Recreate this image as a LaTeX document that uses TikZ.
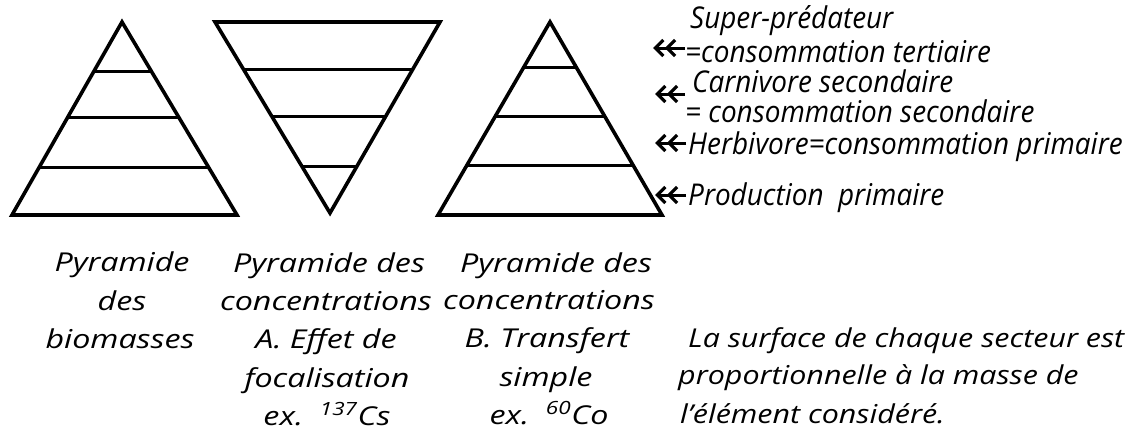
\documentclass[tikz,border=0pt]{standalone}
\usepackage{fontspec}
\setmainfont{Open Sans}
\newfontfamily\rlfont{Open Sans}[FakeStretch=0.93]
\newfontfamily\btfont{Open Sans}[FakeStretch=1.24]
\newfontfamily\brfont{Open Sans}[FakeStretch=1.17]
\usetikzlibrary{arrows.meta,calc}
\begin{document}
\begin{tikzpicture}[x=1pt,y=-1pt,
  tri/.style={line width=3.6pt, line join=miter},
  lvl/.style={line width=3pt},
  lab/.style={font=\rlfont\fontsize{30}{32}\selectfont\itshape, inner sep=0pt, anchor=base west},
  capt/.style={font=\btfont\fontsize{26}{30}\selectfont\itshape, inner sep=0pt, anchor=base},
  capl/.style={font=\brfont\fontsize{26}{30}\selectfont\itshape, inner sep=0pt, anchor=base west},
  arr/.style={line width=3pt, -{Straight Barb[length=8pt,width=16pt,line width=3.2pt] Straight Barb[length=8pt,width=16pt,line width=3.2pt]}}]
\useasboundingbox (0,0) rectangle (1129,431);
% triangle 1 : biomasses
\coordinate (A1) at (122,22); \coordinate (B1) at (12,215); \coordinate (C1) at (237,215);
\draw[tri] (A1) -- (B1) -- (C1) -- cycle;
\foreach \t in {0.254,0.497,0.756}{
  \draw[lvl] ($(A1)!\t!(B1)$) -- ($(A1)!\t!(C1)$);}
% triangle 2 : inverted
\coordinate (A2) at (330,213); \coordinate (B2) at (215,22); \coordinate (C2) at (440,22);
\draw[tri] (A2) -- (B2) -- (C2) -- cycle;
\foreach \t in {0.241,0.503,0.749}{
  \draw[lvl] ($(A2)!\t!(B2)$) -- ($(A2)!\t!(C2)$);}
% triangle 3
\coordinate (A3) at (550,22); \coordinate (B3) at (438,215); \coordinate (C3) at (662,215);
\draw[tri] (A3) -- (B3) -- (C3) -- cycle;
\foreach \t in {0.238,0.492,0.746}{
  \draw[lvl] ($(A3)!\t!(B3)$) -- ($(A3)!\t!(C3)$);}
% right labels
\node[lab] (L1) at (690,28) {Super-prédateur};
\node[lab] (L2) at (685,62) {=consommation tertiaire};
\node[lab] (L3) at (692,92) {Carnivore secondaire};
\node[lab] (L4) at (685,122) {= consommation secondaire};
\node[lab] (L5) at (688,154) {Herbivore=consommation primaire};
\node[lab] (L6) at (688,205) {Production\ \ primaire};
% arrows
\coordinate (s1) at (685,48); \coordinate (e1) at (653,48);
\coordinate (s2) at (685,94); \coordinate (e2) at (655,94);
\coordinate (s3) at (686,143); \coordinate (e3) at (655,143);
\coordinate (s4) at (686,195); \coordinate (e4) at (655,195);
\draw[arr] (s1) -- (e1);
\draw[arr] (s2) -- (e2);
\draw[arr] (s3) -- (e3);
\draw[arr] (s4) -- (e4);
% captions
\node[capt] (c11) at (122,271) {Pyramide};
\node[capt] (c12) at (122,310) {des};
\node[capt] (c13) at (120,348) {biomasses};
\node[capt] (c21) at (329,272) {Pyramide des};
\node[capt] (c22) at (326,310) {concentrations};
\node[capt] (c23) at (326,348) {A. Effet de};
\node[capt] (c24) at (327,387) {focalisation};
\node[capt] (c25) at (327,425) {ex.\ \ \textsuperscript{137}Cs};
\node[capt] (c31) at (556,272) {Pyramide des};
\node[capt] (c32) at (549,309) {concentrations};
\node[capt] (c33) at (547,347) {B. Transfert};
\node[capt] (c34) at (546,386) {simple};
\node[capt] (c35) at (549,424) {ex.\ \ \textsuperscript{60}Co};
\node[capl] (r1) at (688,347) {La surface de chaque secteur est};
\node[capl] (r2) at (678,384) {proportionnelle à la masse de};
\node[capl] (r3) at (680,423) {l’élément considéré.};
\end{tikzpicture}
\end{document}
